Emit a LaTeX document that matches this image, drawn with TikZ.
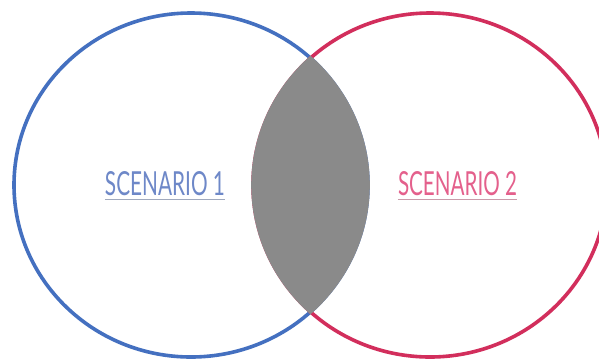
\documentclass[tikz,border=0pt]{standalone}
\usepackage{fontspec}
\setmainfont{Lato}
\definecolor{cblue}{HTML}{4470C0}
\definecolor{cred}{HTML}{D22E5C}
\definecolor{tblue}{HTML}{6E88C8}
\definecolor{tred}{HTML}{E4608C}
\definecolor{lens}{HTML}{8A8A8A}
\begin{document}
\begin{tikzpicture}[x=1pt,y=-1pt,
  ring/.style={line width=3.6pt},
  lbl/.style={inner sep=0pt, anchor=center},
  uline/.style={line width=1.3pt}]
\useasboundingbox (0,0) rectangle (599,360);
\fill[white] (0,0) rectangle (599,360);
\coordinate (c1) at (191,185);
\coordinate (c2) at (430,185);
\draw[ring, cblue] (c1) ellipse [x radius=177, y radius=172];
\draw[ring, cred] (c2) ellipse [x radius=177, y radius=172];
\begin{scope}
  \clip (c1) ellipse [x radius=178.8, y radius=173.8];
  \fill[lens] (c2) ellipse [x radius=178.8, y radius=173.8];
\end{scope}
\node[lbl, tblue] (s1) at (165,184) {\resizebox{120pt}{24pt}{SCENARIO 1}};
\node[lbl, tred] (s2) at (457.5,184) {\resizebox{119pt}{24pt}{SCENARIO 2}};
\draw[uline, tblue!45!gray!70] ([yshift=-3.5pt]s1.south west) -- ([yshift=-3.5pt]s1.south east);
\draw[uline, tred!50!gray!70] ([yshift=-3.5pt]s2.south west) -- ([yshift=-3.5pt]s2.south east);
\end{tikzpicture}
\end{document}
